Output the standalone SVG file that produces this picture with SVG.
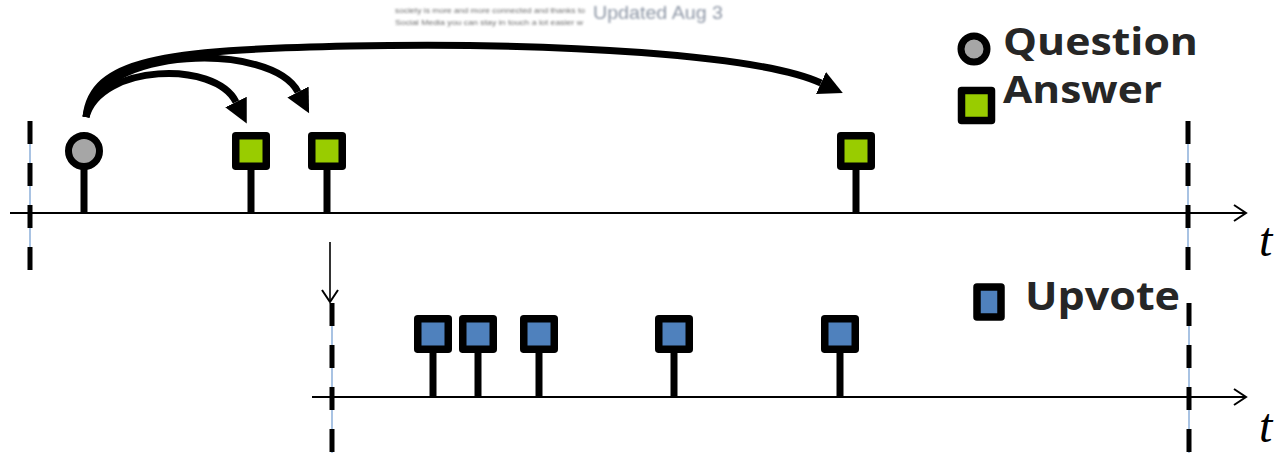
<svg xmlns="http://www.w3.org/2000/svg" width="1283" height="453" viewBox="0 0 1283 453">
  <defs>
    <style>
      .axis { stroke: #000; stroke-width: 2; fill: none; }
      .guide { stroke: #000; stroke-width: 5; stroke-dasharray: 23 19; fill: none; }
      .guide-thin { stroke: #6f9bd1; stroke-width: 1.2; fill: none; }
      .stem { stroke: #000; stroke-width: 7; fill: none; }
      .arc { stroke: #000; stroke-width: 7; fill: none; }
      .q { fill: #a6a6a6; stroke: #000; stroke-width: 7; }
      .ans { fill: #99cc00; stroke: #000; stroke-width: 7.5; stroke-linejoin: round; }
      .up { fill: #4f81bd; stroke: #000; stroke-width: 7.5; stroke-linejoin: round; }
      .legend { font-family: "Open Sans", "Liberation Sans", sans-serif; font-weight: bold; fill: #262626; }
      .tlabel { font-family: "Liberation Serif", serif; font-style: italic; font-size: 48px; fill: #000; }
      .snip { font-family: "Liberation Sans", sans-serif; fill: #6e6e6e; }
    </style>
    <marker id="bigHead" markerUnits="userSpaceOnUse" markerWidth="26" markerHeight="26" refX="0" refY="12" orient="auto" viewBox="0 0 26 24">
      <path d="M0,0 L24,12 L0,24 z" fill="#000"/>
    </marker>
    <marker id="openHead" markerUnits="userSpaceOnUse" markerWidth="16" markerHeight="18" refX="13" refY="9" orient="auto" viewBox="0 0 16 18">
      <path d="M1,1 L13,9 L1,17" fill="none" stroke="#000" stroke-width="2"/>
    </marker>
    <filter id="soft" filterUnits="userSpaceOnUse" x="380" y="0" width="360" height="32">
      <feGaussianBlur stdDeviation="1"/>
    </filter>
  </defs>

  <!-- blurred page snippet at the top -->
  <g id="snippet" filter="url(#soft)">
    <text class="snip" x="395" y="13" font-size="7.5" textLength="190" lengthAdjust="spacingAndGlyphs">society is more and more connected and thanks to</text>
    <text class="snip" x="395" y="25" font-size="7.5" textLength="188" lengthAdjust="spacingAndGlyphs">Social Media you can stay in touch a lot easier w</text>
    <text x="593" y="19" font-family="Liberation Sans, sans-serif" font-size="18" fill="#8e97a6" textLength="130" lengthAdjust="spacingAndGlyphs">Updated Aug 3</text>
  </g>

  <!-- time axes and window boundaries -->
  <g id="axes">
    <line class="axis" x1="10" y1="213" x2="1246" y2="213" marker-end="url(#openHead)"/>
    <line class="axis" x1="312" y1="397" x2="1246" y2="397" marker-end="url(#openHead)"/>
    <line class="guide-thin" x1="30" y1="121" x2="30" y2="270"/>
    <line class="guide" x1="30" y1="121" x2="30" y2="270"/>
    <line class="guide-thin" x1="1188" y1="121" x2="1188" y2="270"/>
    <line class="guide" x1="1188" y1="121" x2="1188" y2="270"/>
    <line class="guide-thin" x1="332" y1="303" x2="332" y2="453"/>
    <line class="guide" x1="332" y1="303" x2="332" y2="453"/>
    <line class="guide-thin" x1="1189" y1="303" x2="1189" y2="453"/>
    <line class="guide" x1="1189" y1="303" x2="1189" y2="453"/>
    <text class="tlabel" x="1259" y="256">t</text>
    <text class="tlabel" x="1259" y="442">t</text>
  </g>

  <!-- connectors -->
  <g id="connectors">
    <path class="arc" d="M86,117 C100,64 215,60 236,102" marker-end="url(#bigHead)"/>
    <path class="arc" d="M86,117 C98,45 272,42 298,92" marker-end="url(#bigHead)"/>
    <path class="arc" d="M86,117 C92,60 160,50 350,46 C560,42 760,55 821,83" marker-end="url(#bigHead)"/>
    <line x1="330" y1="242" x2="330" y2="302" stroke="#000" stroke-width="1.6" marker-end="url(#openHead)"/>
  </g>

  <!-- question event -->
  <g id="question">
    <line class="stem" x1="84" y1="168" x2="84" y2="213"/>
    <circle class="q" cx="84" cy="151" r="15.5"/>
  </g>

  <!-- answer events -->
  <g id="answer1">
    <line class="stem" x1="251" y1="168" x2="251" y2="213"/>
    <rect class="ans" x="235.75" y="135.75" width="30.5" height="30.5"/>
  </g>
  <g id="answer2">
    <line class="stem" x1="327" y1="168" x2="327" y2="213"/>
    <rect class="ans" x="311.75" y="135.75" width="30.5" height="30.5"/>
  </g>
  <g id="answer3">
    <line class="stem" x1="856" y1="168" x2="856" y2="213"/>
    <rect class="ans" x="840.75" y="135.75" width="30.5" height="30.5"/>
  </g>

  <!-- upvote events -->
  <g id="upvote1">
    <line class="stem" x1="433" y1="351" x2="433" y2="397"/>
    <rect class="up" x="417.75" y="318.75" width="30.5" height="30.5"/>
  </g>
  <g id="upvote2">
    <line class="stem" x1="478" y1="351" x2="478" y2="397"/>
    <rect class="up" x="462.75" y="318.75" width="30.5" height="30.5"/>
  </g>
  <g id="upvote3">
    <line class="stem" x1="539" y1="351" x2="539" y2="397"/>
    <rect class="up" x="523.75" y="318.75" width="30.5" height="30.5"/>
  </g>
  <g id="upvote4">
    <line class="stem" x1="674" y1="351" x2="674" y2="397"/>
    <rect class="up" x="658.75" y="318.75" width="30.5" height="30.5"/>
  </g>
  <g id="upvote5">
    <line class="stem" x1="840" y1="351" x2="840" y2="397"/>
    <rect class="up" x="824.75" y="318.75" width="30.5" height="30.5"/>
  </g>

  <!-- legend -->
  <g id="legend-question">
    <circle class="q" cx="974" cy="49" r="13" stroke-width="6.5"/>
    <text class="legend" x="1003" y="55" font-size="38" textLength="195" lengthAdjust="spacingAndGlyphs">Question</text>
  </g>
  <g id="legend-answer">
    <rect class="ans" x="961.5" y="90.5" width="30" height="30" stroke-width="7"/>
    <text class="legend" x="1003" y="103" font-size="37" textLength="159" lengthAdjust="spacingAndGlyphs">Answer</text>
  </g>
  <g id="legend-upvote">
    <rect class="up" x="977" y="287" width="24" height="30" stroke-width="7"/>
    <text class="legend" x="1025" y="310" font-size="40" textLength="155" lengthAdjust="spacingAndGlyphs">Upvote</text>
  </g>
</svg>
